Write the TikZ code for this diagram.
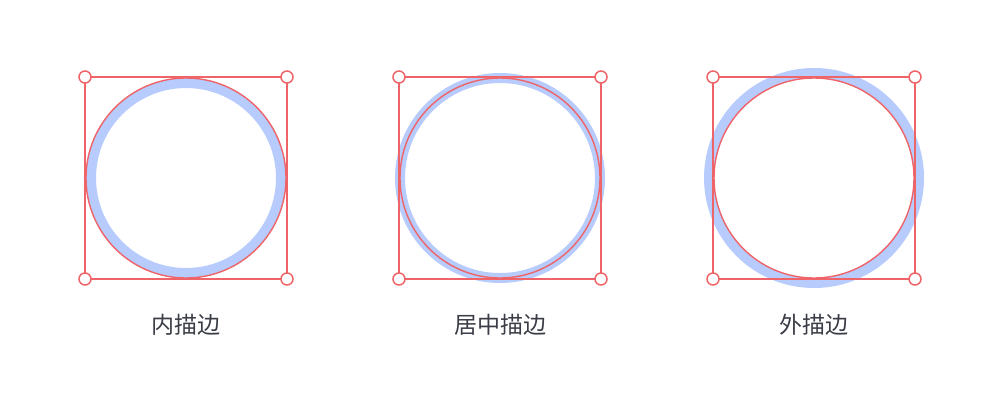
\documentclass[tikz,border=0pt]{standalone}
\usepackage{fontspec}
\newfontfamily\cjk{Noto Sans CJK SC}
\definecolor{redline}{HTML}{EE6468}
\definecolor{bluestroke}{HTML}{B7CBFD}
\definecolor{labelgray}{HTML}{3A3D46}
\tikzset{
  frame/.style={draw=redline, line width=1.5pt},
  redcirc/.style={draw=redline, line width=1.4pt},
  bluering/.style={draw=bluestroke, line width=10pt},
  handle/.style={circle, draw=redline, fill=white, line width=1.5pt, minimum size=12pt, inner sep=0pt},
  lbl/.style={font=\cjk\fontsize{23}{23}\selectfont, text=labelgray, inner sep=0pt}
}
\begin{document}
\begin{tikzpicture}[x=1pt,y=-1pt]
\useasboundingbox (0,0) rectangle (1000,400);
% ---- inner stroke
\coordinate (c1) at (186,178);
\draw[bluering] (c1) circle (95);
\draw[redcirc] (c1) circle (100);
\draw[frame] (85,77) rectangle (287,279);
\node[handle] (h1a) at (85,77) {};
\node[handle] (h1b) at (287,77) {};
\node[handle] (h1c) at (85,279) {};
\node[handle] (h1d) at (287,279) {};
\node[lbl] (l1) at (186,325) {内描边};
% ---- centered stroke
\coordinate (c2) at (500,178);
\draw[bluering] (c2) circle (100);
\draw[redcirc] (c2) circle (100);
\draw[frame] (399,77) rectangle (601,279);
\node[handle] (h2a) at (399,77) {};
\node[handle] (h2b) at (601,77) {};
\node[handle] (h2c) at (399,279) {};
\node[handle] (h2d) at (601,279) {};
\node[lbl] (l2) at (500,325) {居中描边};
% ---- outer stroke
\coordinate (c3) at (814,178);
\draw[bluering] (c3) circle (105);
\draw[redcirc] (c3) circle (100);
\draw[frame] (713,77) rectangle (915,279);
\node[handle] (h3a) at (713,77) {};
\node[handle] (h3b) at (915,77) {};
\node[handle] (h3c) at (713,279) {};
\node[handle] (h3d) at (915,279) {};
\node[lbl] (l3) at (814,325) {外描边};
\end{tikzpicture}
\end{document}
